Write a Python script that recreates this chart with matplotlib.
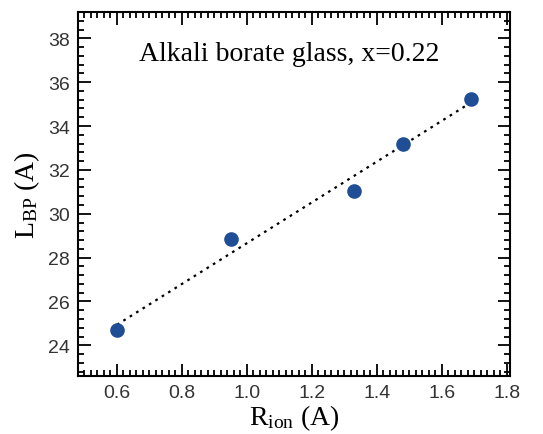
import matplotlib.pyplot as plt
import numpy as np
from matplotlib.ticker import MultipleLocator

# ionic radius vs boson peak length
r_ion = [0.60, 0.95, 1.33, 1.48, 1.69]
l_bp = [24.7, 28.85, 31.05, 33.2, 35.25]

plt.rcParams['mathtext.fontset'] = 'custom'
plt.rcParams['mathtext.rm'] = 'Liberation Serif'

fig = plt.figure(figsize=(5.43, 4.35), dpi=100)
ax = fig.add_axes([78 / 543, 1 - 377 / 435, (510 - 78) / 543, (377 - 13) / 435])

# linear fit through the points
slope, icpt = np.polyfit(r_ion, l_bp, 1)
xf = np.array([min(r_ion), max(r_ion)])
ax.plot(xf, slope * xf + icpt, linestyle=(0, (1.2, 2.2)), color='black', linewidth=1.6, zorder=2)
ax.plot(r_ion, l_bp, 'o', color='#1f4e96', markersize=9.5, zorder=3)

ax.set_xlim(0.48, 1.81)
ax.set_ylim(22.6, 39.2)
ax.xaxis.set_major_locator(MultipleLocator(0.2))
ax.xaxis.set_minor_locator(MultipleLocator(0.02))
ax.yaxis.set_major_locator(MultipleLocator(2))
ax.yaxis.set_minor_locator(MultipleLocator(0.4))
ax.tick_params(which='both', direction='in', top=True, right=True, width=1.3)
ax.tick_params(which='major', length=9, labelsize=14, pad=6, labelcolor='#333333')
ax.tick_params(which='minor', length=4)
for lab in ax.get_xticklabels() + ax.get_yticklabels():
    lab.set_family('Liberation Sans')
for sp in ax.spines.values():
    sp.set_linewidth(1.5)

ax.set_xlabel(r'$\mathrm{R_{ion}}$ (A)', family='Liberation Serif', fontsize=20, labelpad=1)
ax.set_ylabel(r'$\mathrm{L_{BP}}$ (A)', family='Liberation Serif', fontsize=20, labelpad=4)
ax.text(0.49, 0.885, 'Alkali borate glass, x=0.22', transform=ax.transAxes,
        ha='center', va='center', family='Liberation Serif', fontsize=20)

plt.savefig('out.png', dpi=100)
plt.close()
